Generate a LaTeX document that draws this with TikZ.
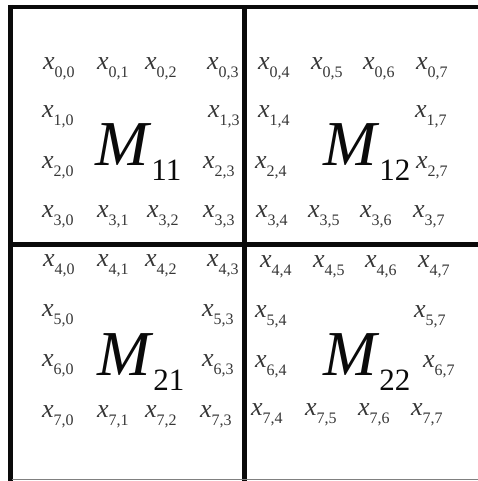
\documentclass[tikz,border=0pt]{standalone}
\usepackage{fontspec}
\setmainfont{Liberation Serif}
\usetikzlibrary{positioning}
\definecolor{inkBlack}{RGB}{10, 10, 10}
\definecolor{inkGray}{RGB}{55, 55, 55}
\newcommand{\xel}[2]{{\fontsize{26pt}{26pt}\selectfont\textit{x}}\raisebox{-8pt}{\fontsize{16pt}{16pt}\selectfont #1,#2}}
\newcommand{\blk}[1]{{\fontsize{64pt}{64pt}\selectfont\textit{M}}\raisebox{-15pt}{\fontsize{31pt}{31pt}\selectfont #1}}

\begin{document}
\begin{tikzpicture}[x=1pt, y=-1pt,
    elem/.style={anchor=base west, inner sep=0pt, text=inkGray},
    block/.style={anchor=base west, inner sep=0pt, text=inkBlack},
    thick rule/.style={draw=inkBlack, line width=4.5pt}]
    \useasboundingbox (0,0) rectangle (478,481);
    % frame and quadrant rules
    \draw[thick rule] (8,7) -- (478,7);
    \draw[thick rule] (10.5,5) -- (10.5,481);
    \draw[thick rule] (244.5,7) -- (244.5,481);
    \draw[thick rule] (10,244.5) -- (478,244.5);
    \draw[gray, line width=1pt] (12,479.5) -- (478,479.5);
    % matrix elements
    \foreach \r/\c/\px/\py in {0/0/43/70, 0/1/97/70, 0/2/145/70, 0/3/207/70,
        1/0/42/118, 1/3/208/118, 2/0/42/168, 2/3/203/168,
        3/0/42/217, 3/1/97/217, 3/2/147/217, 3/3/203/217,
        0/4/258/70, 0/5/311/70, 0/6/363/70, 0/7/416/70,
        1/4/258/118, 1/7/415/118, 2/4/255/168, 2/7/416/168,
        3/4/256/217, 3/5/308/217, 3/6/360/217, 3/7/413/217,
        4/0/43/266, 4/1/97/266, 4/2/145/266, 4/3/207/266,
        5/0/42/316, 5/3/202/316, 6/0/42/366, 6/3/202/366,
        7/0/42/417, 7/1/97/417, 7/2/145/417, 7/3/200/417,
        4/4/260/267, 4/5/313/267, 4/6/365/267, 4/7/418/267,
        5/4/255/317, 5/7/414/317, 6/4/255/367, 6/7/423/367,
        7/4/251/415, 7/5/305/415, 7/6/358/415, 7/7/411/415}
        \node[elem] (x\r\c) at (\px,\py) {\xel{\r}{\c}};
    % block labels
    \node[block] (M11) at (95,165) {\blk{11}};
    \node[block] (M12) at (323,165) {\blk{12}};
    \node[block] (M21) at (97,375) {\blk{21}};
    \node[block] (M22) at (323,375) {\blk{22}};
\end{tikzpicture}
\end{document}
